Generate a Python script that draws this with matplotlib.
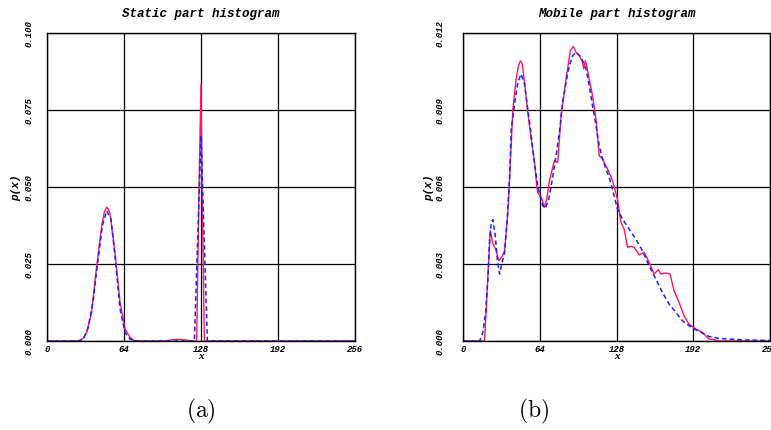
import matplotlib
matplotlib.use("Agg")
import matplotlib.pyplot as plt
import numpy as np

plt.rcParams['mathtext.fontset'] = 'cm'

# static part histogram (a)
static_x_red = [0, 26, 30, 33, 37.1, 41.3, 45.5, 47.6, 49.6, 51.0, 52.4, 56.5, 60.7, 64.8, 69, 73,
                98, 104, 110, 116, 120, 124.4, 126.6, 128, 128.9, 130.8, 256]
static_y_red = [0, 0, 0.0008, 0.0028, 0.0093, 0.0244, 0.0374, 0.0418, 0.0434, 0.0428, 0.0412, 0.0288, 0.0126, 0.0039, 0.0012, 0,
                0, 0.0004, 0.0005, 0.0003, 0, 0, 0.055, 0.0834, 0.05, 0, 0]
static_x_blue = [0, 27, 30.2, 34.3, 38.5, 41.8, 46, 49.6, 53.2, 56.5, 60.7, 64.8, 69, 73,
                 122.5, 128, 133.3, 256]
static_y_blue = [0, 0, 0.0006, 0.0044, 0.0136, 0.0244, 0.0374, 0.0423, 0.0396, 0.0277, 0.0104, 0.0028, 0.0006, 0,
                 0, 0.0667, 0, 0]

# mobile part histogram (b)
mobile_x_red = [0, 18, 21.6, 22.8, 24.9, 27.2, 29.9, 32.7, 34.7, 37.4, 38.8, 41.6, 44.3, 46.3, 47.9, 49.4,
                51.3, 54, 56.9, 59.6, 61.5, 62.3, 65.2, 67.9, 69.8, 72.1, 76.2, 79, 81.8, 85.9, 89.5, 92,
                94.2, 97, 99.7, 100.6, 102, 103.4, 105.3, 108, 110.9, 113.6, 116.4, 120.5, 124.7, 128.8,
                131.7, 134.4, 137.2, 140, 142.7, 146.9, 151, 155.2, 159.3, 162.9, 164.9, 169, 172.6, 176,
                180.1, 184.3, 188.4, 194, 199.5, 205, 209.2, 213.4, 256]
mobile_y_red = [0, 0, 0.00332, 0.0043, 0.00378, 0.00358, 0.00313, 0.0033, 0.00352, 0.00501, 0.0063, 0.00904,
                0.0102, 0.01073, 0.01092, 0.0108, 0.01008, 0.00891, 0.00787, 0.00696, 0.00605, 0.00579,
                0.0056, 0.00521, 0.00553, 0.00625, 0.00702, 0.00696, 0.00878, 0.0102, 0.01131, 0.01148,
                0.01125, 0.01111, 0.01086, 0.0106, 0.01092, 0.01066, 0.0102, 0.00956, 0.00865, 0.00722,
                0.00709, 0.0067, 0.00625, 0.00553, 0.00462, 0.00436, 0.00365, 0.00369, 0.00365, 0.00335,
                0.00346, 0.00307, 0.00261, 0.00278, 0.00261, 0.00265, 0.00261, 0.00196, 0.00151, 0.00099,
                0.00066, 0.00047, 0.00034, 0.00008, 0.00005, 0.0, 0]
mobile_x_blue = [0, 13.9, 16.6, 18.9, 20.8, 22.2, 23.6, 24.9, 26.9, 28.6, 30.5, 32.7, 34.7, 36.9, 38.8,
                 40.2, 43, 45.7, 48.5, 51.3, 54, 56.9, 59.6, 62.3, 63.8, 66.5, 68.7, 71.5, 74.3, 77.6,
                 80.4, 83.1, 85.9, 88.7, 91.4, 94.2, 97, 99.7, 102.6, 105.3, 108, 110.9, 113.6, 116.4,
                 119.2, 121.9, 124.7, 128.8, 133, 138.5, 144.1, 149.6, 155.2, 160.7, 166.2, 171.8, 177.4,
                 182.9, 188.4, 194, 199.5, 205, 213.4, 224.4, 236, 256]
mobile_y_blue = [0, 0, 0.00034, 0.00112, 0.00242, 0.00397, 0.00462, 0.00473, 0.0041, 0.00319, 0.00261,
                 0.00307, 0.00346, 0.00475, 0.0063, 0.00826, 0.00923, 0.01008, 0.0104, 0.01001, 0.00904,
                 0.008, 0.00696, 0.00605, 0.00573, 0.00527, 0.00517, 0.00553, 0.00625, 0.00722, 0.00813,
                 0.0093, 0.01008, 0.01073, 0.01111, 0.01125, 0.01114, 0.01092, 0.0106, 0.00995, 0.00917,
                 0.00839, 0.00761, 0.00709, 0.0067, 0.00638, 0.0059, 0.00514, 0.00475, 0.00436, 0.00397,
                 0.00352, 0.00293, 0.00242, 0.0019, 0.00144, 0.00112, 0.00079, 0.0006, 0.00044, 0.00031,
                 0.00018, 0.0001, 0.00007, 0.00004, 0.00002]

x_ticks = [0, 64, 128, 192, 256]
static_y_ticks = [0.0, 0.025, 0.05, 0.075, 0.1]
static_y_labels = ['0.000', '0.025', '0.050', '0.075', '0.100']
mobile_y_ticks = [0.0, 0.003, 0.006, 0.009, 0.012]
mobile_y_labels = ['0.000', '0.003', '0.006', '0.009', '0.012']

RED = '#ff1464'
BLUE = '#1e1eff'
tick_font = dict(family='Liberation Mono', weight='bold', style='italic', size=6.5)

fig = plt.figure(figsize=(7.71, 4.31), dpi=100)
ax1 = fig.add_axes([47 / 771, 89 / 431, 308 / 771, 308 / 431])
ax2 = fig.add_axes([463 / 771, 89 / 431, 307 / 771, 308 / 431])


def style_axes(ax, title, yticks, ylabels, ypad, ylab_x):
    ax.set_xlim(0, 256)
    ax.set_ylim(yticks[0], yticks[-1])
    ax.set_xticks(x_ticks)
    ax.set_xticklabels([str(t) for t in x_ticks], fontdict=tick_font)
    ax.set_yticks(yticks)
    ax.set_yticklabels(ylabels, fontdict=tick_font, rotation=90, va='center')
    ax.tick_params(axis='both', length=0)
    ax.tick_params(axis='x', pad=2)
    ax.tick_params(axis='y', pad=ypad)
    ax.grid(True, color='black', linewidth=0.9)
    ax.set_axisbelow(True)
    for s in ax.spines.values():
        s.set_linewidth(1.0)
    ax.set_title(title, family='Liberation Mono', weight='bold', style='italic', size=9, pad=12)
    ax.set_xlabel('x', family='Liberation Serif', weight='bold', style='italic', size=8, labelpad=-1)
    ax.set_ylabel('p(x)', family='Liberation Mono', weight='bold', style='italic', size=8)
    ax.yaxis.set_label_coords(ylab_x, 0.5)


ax1.plot(static_x_red, static_y_red, color=RED, linewidth=1.0)
ax1.plot(static_x_blue, static_y_blue, color=BLUE, linewidth=1.1, linestyle=(0, (3, 2)))
style_axes(ax1, 'Static part histogram', static_y_ticks, static_y_labels, 10, -0.085)

ax2.plot(mobile_x_red, mobile_y_red, color=RED, linewidth=1.0)
ax2.plot(mobile_x_blue, mobile_y_blue, color=BLUE, linewidth=1.1, linestyle=(0, (3, 2)))
style_axes(ax2, 'Mobile part histogram', mobile_y_ticks, mobile_y_labels, 13, -0.095)

fig.text(201 / 771, 1 - 411 / 431, r'$\mathrm{(a)}$', ha='center', va='center', size=17)
fig.text(534 / 771, 1 - 411 / 431, r'$\mathrm{(b)}$', ha='center', va='center', size=17)

fig.savefig('out.png', dpi=100)
